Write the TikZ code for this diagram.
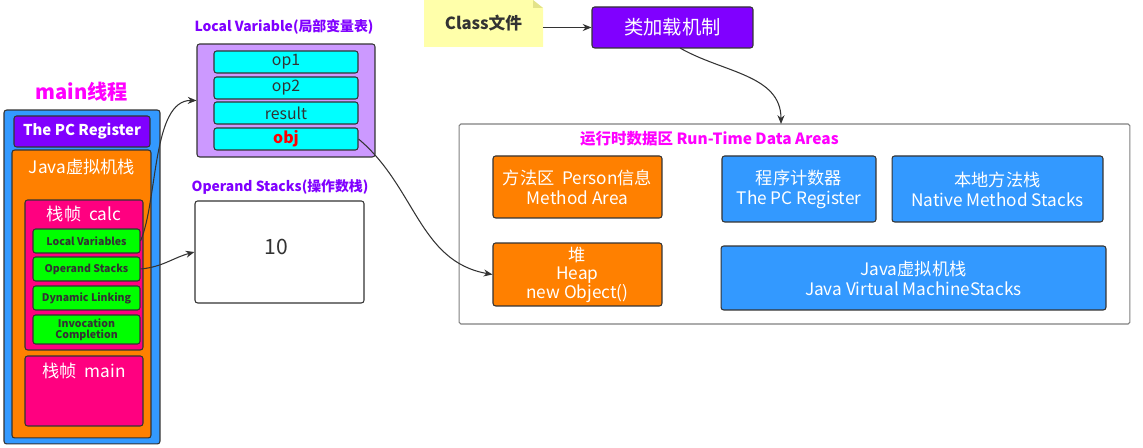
\documentclass[tikz,border=0pt]{standalone}
\usepackage{fontspec}
\setmainfont{Noto Sans CJK SC}
\usetikzlibrary{arrows.meta,calc}

\definecolor{areablue}{HTML}{3399FF}
\definecolor{regpurple}{HTML}{8000FF}
\definecolor{stackorange}{HTML}{FF8000}
\definecolor{framepink}{HTML}{FF0080}
\definecolor{slotgreen}{HTML}{00FF00}
\definecolor{cellcyan}{HTML}{00FFFF}
\definecolor{tablelilac}{HTML}{CC99FF}
\definecolor{notecream}{HTML}{FFFFAA}
\definecolor{notefold}{HTML}{E3E38A}
\definecolor{edgegray}{HTML}{333333}
\definecolor{titlemagenta}{HTML}{FF00FF}

\tikzset{
  box/.style={draw=edgegray, rounded corners=1.5pt, line width=0.6pt, inner sep=0pt, align=center},
  wtext/.style={text=white, font=\fontsize{9.8}{11.5}\selectfont},
  slot/.style={box, fill=slotgreen, text=edgegray, minimum width=2.14cm,
    font=\fontsize{6}{6.5}\selectfont\bfseries},
  cell/.style={box, fill=cellcyan, text=edgegray, minimum width=2.88cm, minimum height=0.44cm,
    font=\fontsize{9}{10}\selectfont},
  title/.style={text=regpurple, font=\fontsize{7.9}{9}\selectfont\bfseries},
  link/.style={draw=edgegray, line width=0.6pt, -{Stealth[length=5pt,width=4pt]}},
}

\begin{document}
\begin{tikzpicture}[x=0.02cm,y=-0.02cm]
    \useasboundingbox (0,0) rectangle (1143,448);

    % main thread
    \node[text=titlemagenta, font=\fontsize{11.5}{13}\selectfont\bfseries] (threadname) at (82,92) {main线程};
    \node[box, fill=areablue, minimum width=3.12cm, minimum height=6.68cm] (thread) at (82,277) {};
    \node[box, fill=regpurple, minimum width=2.72cm, minimum height=0.62cm,
      text=white, font=\fontsize{8.5}{10}\selectfont\bfseries] (pcreg) at (82,131.5) {The PC Register};
    \node[box, fill=stackorange, minimum width=2.78cm, minimum height=5.76cm] (jvmstack) at (81.5,294) {};
    \node[wtext] (jvmname) at (82,167) {Java虚拟机栈};

    \node[box, fill=framepink, minimum width=2.36cm, minimum height=3cm] (calcframe) at (84,275) {};
    \node[wtext] (calcname) at (84,214) {栈帧\ \ calc};
    \node[slot, minimum height=0.48cm] (lv) at (86.5,241) {Local Variables};
    \node[slot, minimum height=0.48cm] (os) at (86.5,269) {Operand Stacks};
    \node[slot, minimum height=0.48cm] (dl) at (86.5,298) {Dynamic Linking};
    \node[slot, minimum height=0.58cm] (ic) at (86.5,329.5) {Invocation\\Completion};

    \node[box, fill=framepink, minimum width=2.36cm, minimum height=1.4cm] (mainframe) at (84,391) {};
    \node[wtext] (mainname) at (84,371) {栈帧\ \ main};

    % local variable table
    \node[title] (lvtitle) at (284,27) {Local Variable(局部变量表)};
    \node[box, fill=tablelilac, minimum width=3.56cm, minimum height=2.26cm] (lvtable) at (286,100.5) {};
    \node[cell] (op1) at (286,62) {op1};
    \node[cell] (op2) at (286,88) {op2};
    \node[cell] (result) at (286,113) {result};
    \node[cell, text=red, font=\fontsize{9}{10}\selectfont\bfseries] (obj) at (286,139) {obj};

    % operand stack
    \node[title] (ostitle) at (280,187) {Operand Stacks(操作数栈)};
    \node[box, fill=white, minimum width=3.38cm, minimum height=2.04cm] (ostable) at (279.5,252) {};
    \node[text=edgegray, font=\fontsize{12}{14}\selectfont] (osvalue) at (276,247) {10};

    % class file and loader
    \fill[notecream] (424,0) -- (533,0) -- (543,8) -- (543,47) -- (424,47) -- cycle;
    \fill[notefold] (533,0) -- (533,8) -- (543,8) -- cycle;
    \node[minimum width=2.38cm, minimum height=0.94cm, inner sep=0pt, text=edgegray,
      font=\fontsize{9.5}{11}\selectfont\bfseries] (classfile) at (483.5,23.5) {Class文件};
    \node[box, fill=regpurple, minimum width=3.22cm, minimum height=0.82cm, text=white,
      font=\fontsize{11}{13}\selectfont] (loader) at (672.5,27.5) {类加载机制};

    % run-time data areas
    \node[box, draw=gray, fill=white, rounded corners=1pt, minimum width=13.42cm, minimum height=4cm] (rtarea) at (794.5,224) {};
    \node[text=titlemagenta, font=\fontsize{8.8}{10}\selectfont\bfseries, anchor=west] (rttitle) at (574,139) {运行时数据区 Run-Time Data Areas};
    \node[box, fill=stackorange, minimum width=3.38cm, minimum height=1.24cm, wtext] (methodarea) at (577.5,187) {方法区\ \ Person信息\\Method Area};
    \node[box, fill=areablue, minimum width=3.08cm, minimum height=1.32cm, wtext] (pcarea) at (799,189) {程序计数器\\The PC Register};
    \node[box, fill=areablue, minimum width=4.22cm, minimum height=1.32cm, wtext] (nativearea) at (997.5,189) {本地方法栈\\Native Method Stacks};
    \node[box, fill=stackorange, minimum width=3.38cm, minimum height=1.26cm, wtext,
      font=\fontsize{9.8}{10.5}\selectfont] (heap) at (577.5,274.5) {堆\\Heap\\new Object()};
    \node[box, fill=areablue, minimum width=7.7cm, minimum height=1.28cm, wtext] (jvmarea) at (913.5,278) {Java虚拟机栈\\Java Virtual MachineStacks};

    % links
    \coordinate (loadout) at (680,48);
    \coordinate (rtin) at (781,124);
    \draw[link] (lv.east) .. controls (158,200) and (152,100) .. (lvtable.west);
    \draw[link] (os.east) to[out=5,in=195] (ostable.west);
    \draw[link] (obj.east) to[out=-40,in=170] (heap.west);
    \draw[link] (classfile.east |- loader.west) -- (loader.west);
    \draw[link] (loadout) to[out=-30,in=90] (rtin);
\end{tikzpicture}
\end{document}
